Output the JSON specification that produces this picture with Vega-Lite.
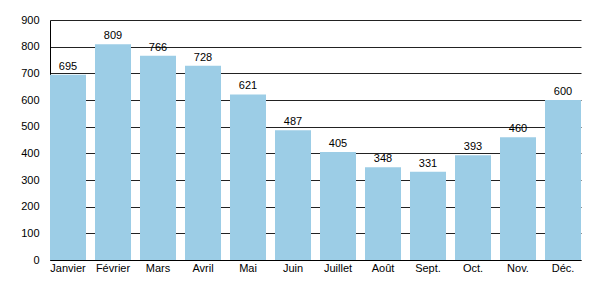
{
  "$schema": "https://vega.github.io/schema/vega-lite/v6.json",
  "width": 531,
  "height": 240,
  "autosize": "none",
  "padding": {"left": 50, "top": 20, "right": 19, "bottom": 40},
  "background": "white",
  "config": {
    "view": {"stroke": null},
    "font": "Liberation Sans",
    "axis": {"labelFont": "Liberation Sans", "labelFontSize": 11, "labelColor": "#000"}
  },
  "data": {
    "values": [
      {"mois": "Janvier", "v": 695},
      {"mois": "Février", "v": 809},
      {"mois": "Mars", "v": 766},
      {"mois": "Avril", "v": 728},
      {"mois": "Mai", "v": 621},
      {"mois": "Juin", "v": 487},
      {"mois": "Juillet", "v": 405},
      {"mois": "Août", "v": 348},
      {"mois": "Sept.", "v": 331},
      {"mois": "Oct.", "v": 393},
      {"mois": "Nov.", "v": 460},
      {"mois": "Déc.", "v": 600}
    ]
  },
  "encoding": {
    "x": {
      "field": "mois", "type": "nominal", "sort": null,
      "scale": {"paddingInner": 0.2, "paddingOuter": 0},
      "axis": {"title": null, "labelAngle": 0, "ticks": false, "domainColor": "#000", "labelPadding": 2}
    },
    "y": {
      "field": "v", "type": "quantitative",
      "scale": {"domain": [0, 900]},
      "axis": {"title": null, "values": [0,100,200,300,400,500,600,700,800,900], "ticks": false, "labelPadding": 11, "gridColor": "#222", "gridOpacity": 1, "domainColor": "#000"}
    }
  },
  "layer": [
    {"mark": {"type": "bar", "color": "#9ccde6"}},
    {"mark": {"type": "text", "baseline": "bottom", "dy": -3, "fontSize": 11, "color": "#000"},
     "encoding": {"text": {"field": "v", "type": "quantitative"}}}
  ]
}
